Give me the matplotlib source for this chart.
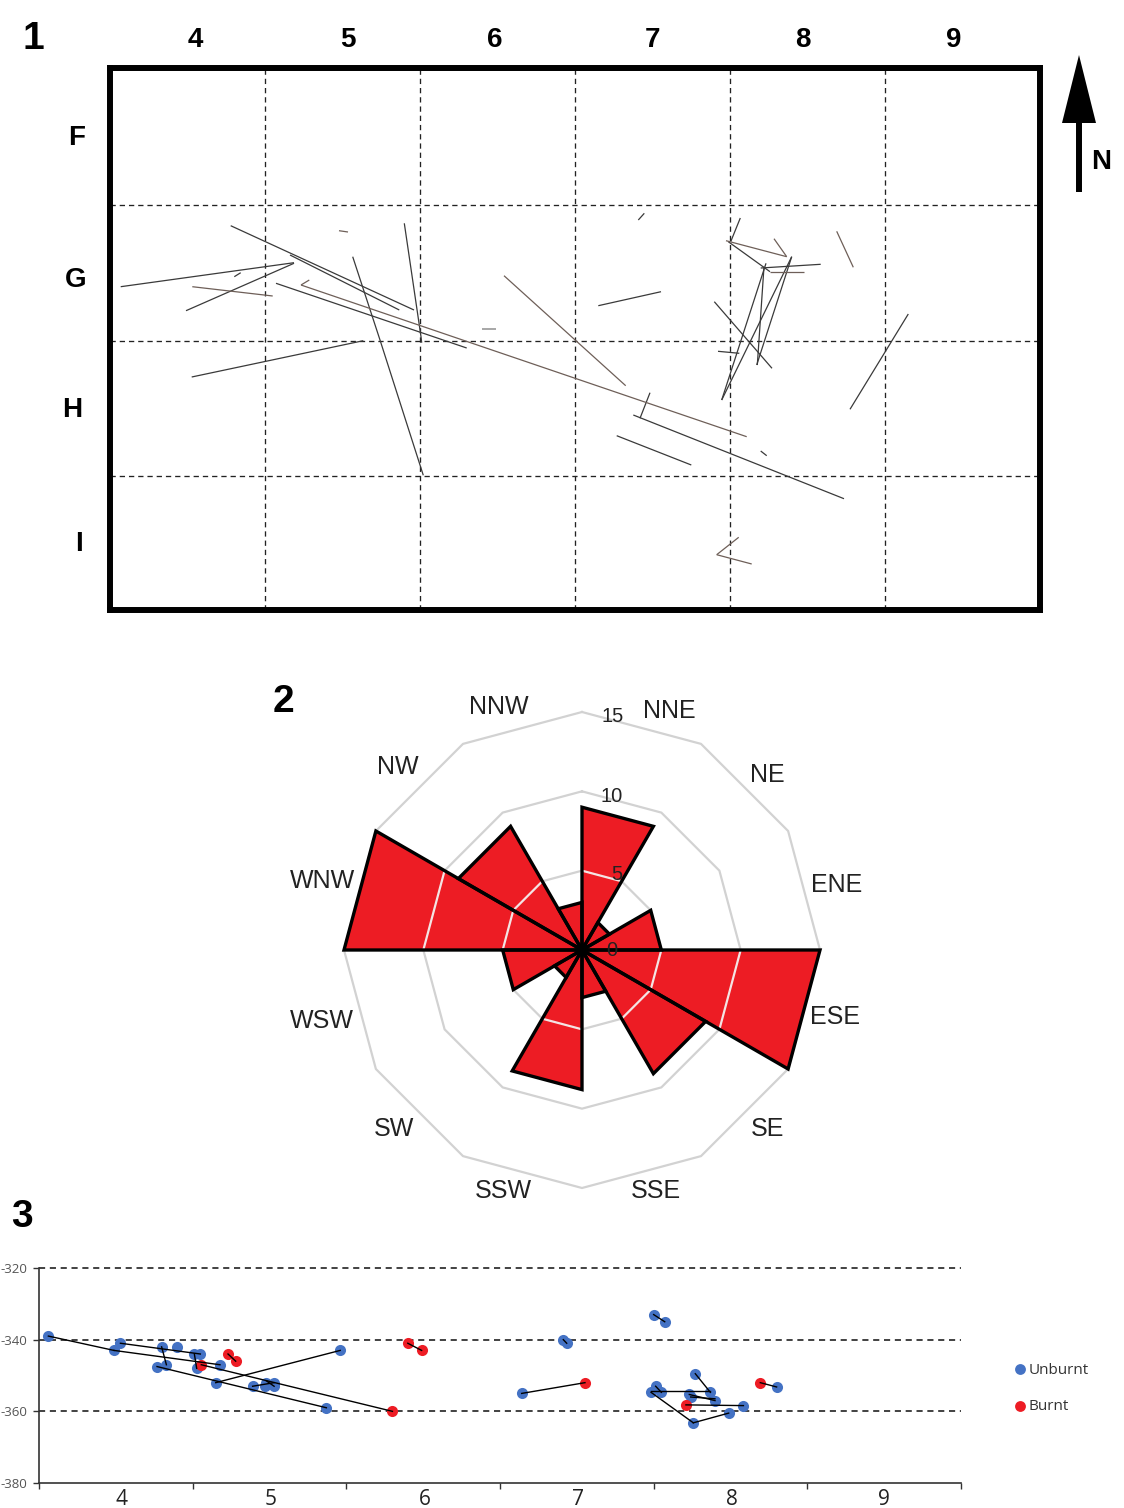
import numpy as np
import matplotlib
matplotlib.use("Agg")
import matplotlib.pyplot as plt

W, H = 1124, 1508
plt.rcParams['font.family'] = ['Liberation Sans', 'DejaVu Sans']

# ---------- Panel 1: map (map units, box spans 110-1040 by 68-610) ----------
map_x_grid = [265, 420, 575, 730, 885]
map_y_grid = [205, 341, 476]
col_labels = ['4', '5', '6', '7', '8', '9']
col_label_x = [195, 348, 495, 653, 803, 954]
row_labels = ['F', 'G', 'H', 'I']
row_label_pos = [(77, 135), (76, 277), (72, 407), (79, 541)]

dark_lines = [
    [(230.7, 225.7), (414, 310)], [(290, 255), (399.3, 310)],
    [(120.7, 286.7), (294, 262.7)], [(186, 310.7), (294, 263.3)],
    [(234.3, 276.7), (240.7, 272.7)], [(276, 283.3), (466.7, 348)],
    [(404.3, 223.3), (421, 336.7), (421.7, 342.7)],
    [(352.7, 256.7), (380, 340), (423.3, 475.3)],
    [(191.7, 377), (363.3, 340.7)], [(638.3, 220), (644.3, 213.3)],
    [(598.3, 305.7), (661, 291.7)], [(650, 392.7), (640, 418.3)],
    [(633.3, 415), (844, 498.7)], [(616.7, 435.7), (691.3, 465)],
    [(760.7, 451), (766.7, 455.7)], [(740.3, 218), (730.7, 241.7)],
    [(728.3, 241.7), (770, 271.7)], [(760.7, 268), (820.7, 264.3)],
    [(766, 263.3), (721.7, 400)], [(764, 266.7), (757.3, 365)],
    [(791.7, 256.7), (721.7, 400)], [(791.7, 256.7), (756.7, 365)],
    [(714.3, 301.7), (772, 368.3)], [(718, 351.3), (739.3, 353.3)],
    [(908.3, 314), (850, 409.3)],
]
brown_lines = [
    [(192.3, 286.7), (272.7, 296)], [(301, 285), (746.7, 436.7)],
    [(301, 285), (309.3, 280)], [(339, 230.7), (348, 232)],
    [(504, 275.7), (625.7, 385.7)], [(738.7, 537.3), (716.7, 554.7)],
    [(716.7, 554.7), (751.7, 564)], [(726, 240.7), (786.7, 256.7)],
    [(774, 238.7), (786.7, 256.7)], [(770, 271.7), (804, 271.7)],
    [(836.7, 231.3), (853.3, 267.3)],
]
grey_lines = [[(482.3, 328.7), (495.7, 328.7)]]

# ---------- Panel 2: rose ----------
rose_dirs = ['NNE', 'NE', 'ENE', 'ESE', 'SE', 'SSE', 'SSW', 'SW', 'WSW', 'WNW', 'NW', 'NNW']
rose_vals = [9, 2, 5, 15, 9, 3, 8.8, 2, 5, 15, 9, 3]
rose_rings = [5, 10, 15]
rose_label_pos = [(669, 708), (767, 773), (837, 883), (835, 1015), (768, 1127), (656, 1189),
                  (503, 1189), (394, 1126), (322, 1019), (323, 878), (398, 765), (499, 704)]
ring_labels = ['0', '5', '10', '15']
ring_label_pos = [(612, 948), (617, 872), (612, 794), (613, 715)]

# ---------- Panel 3: section ----------
unburnt_x = [3.561, 4.03, 3.988, 4.298, 4.398, 4.511, 4.55, 4.268, 4.329, 4.526, 4.678, 4.65,
             4.89, 4.97, 4.98, 5.03, 5.03, 5.37, 5.46,
             6.641, 6.912, 6.934, 7.5, 7.572, 7.771, 7.513, 7.483, 7.55, 7.869, 7.732, 7.741,
             7.899, 8.084, 7.988, 7.758, 8.3]
unburnt_y = [-339, -341, -343, -342, -342, -344, -344, -347.5, -347, -348, -347, -352,
             -353, -353, -352, -352, -353, -359, -343,
             -355, -340, -341, -333, -335, -349.5, -353, -354.7, -354.7, -354.7, -355.3, -356,
             -357, -358.6, -360.5, -363.2, -353.2]
burnt_x = [4.73, 4.78, 4.556, 5.80, 5.90, 5.99, 7.053, 7.71, 8.194]
burnt_y = [-344, -346, -347, -360, -341, -343, -352, -358.3, -352]
refit_lines = [
    [(3.561, -339), (3.988, -343)], [(3.988, -343), (4.678, -347)],
    [(4.03, -341), (4.55, -344)], [(4.298, -342), (4.329, -347)],
    [(4.268, -347.5), (5.37, -359)], [(4.65, -352), (5.46, -343)],
    [(4.511, -344), (4.526, -348)], [(4.556, -347), (5.80, -360)],
    [(4.89, -353), (5.03, -352)], [(4.98, -351.5), (5.03, -353)],
    [(4.73, -344), (4.78, -346)], [(5.90, -341), (5.99, -343)],
    [(6.641, -355), (7.053, -352)], [(6.912, -340), (6.934, -341)],
    [(7.5, -333), (7.572, -335)], [(7.771, -349.5), (7.869, -354.7)],
    [(7.483, -354.2), (7.869, -354.2)], [(7.513, -353), (7.55, -354.7)],
    [(7.483, -354.7), (7.758, -363.2)], [(7.758, -363.2), (7.988, -360.5)],
    [(7.732, -355.3), (7.899, -357)], [(7.741, -356), (7.899, -356.5)],
    [(7.71, -358.2), (8.084, -358.4)], [(8.194, -352), (8.3, -353.2)],
]
sec_y_ticks = [-320, -340, -360, -380]
sec_x_edges = [3.5, 4.5, 5.5, 6.5, 7.5, 8.5, 9.5]
sec_x_labels = ['4', '5', '6', '7', '8', '9']
sec_x_label_pos = [4.034, 5.01, 6.01, 7.01, 8.01, 9.0]

BLUE, RED = '#4472c4', '#ed1c24'


def rect(x0, y0, x1, y1):
    return [x0 / W, 1 - y1 / H, (x1 - x0) / W, (y1 - y0) / H]


fig = plt.figure(figsize=(W / 100, H / 100), dpi=100, facecolor='white')

# --- map ---
ax1 = fig.add_axes(rect(110, 68, 1040, 610))
ax1.set_xlim(110, 1040)
ax1.set_ylim(610, 68)
ax1.set_xticks([])
ax1.set_yticks([])
for s in ax1.spines.values():
    s.set_linewidth(4.3)
    s.set_color('black')
for gx in map_x_grid:
    ax1.axvline(gx, color='#222222', lw=0.95, dashes=(4, 3))
for gy in map_y_grid:
    ax1.axhline(gy, color='#222222', lw=0.95, dashes=(4, 3))
for group, col, lw in [(dark_lines, '#3a3a3a', 0.9), (brown_lines, '#6e5f58', 0.9),
                       (grey_lines, '#909090', 1.1)]:
    for seg in group:
        xs, ys = zip(*seg)
        ax1.plot(xs, ys, color=col, lw=lw, solid_capstyle='butt')

# --- rose ---
R = 238
ax2 = fig.add_axes(rect(582 - R, 950 - R, 582 + R, 950 + R), projection='polar')
ax2.set_theta_zero_location('N')
ax2.set_theta_direction(-1)
ax2.set_ylim(0, 15)
ax2.axis('off')
step = 2 * np.pi / len(rose_vals)
edges = np.arange(len(rose_vals) + 1) * step
for g in rose_rings:
    ax2.plot(edges, [g] * len(edges), color='#d2d2d2', lw=1.6, zorder=1, clip_on=False)
for i, v in enumerate(rose_vals):
    t0, t1 = edges[i], edges[i + 1]
    ax2.fill([t0, t0, t1], [0, v, v], facecolor=RED, edgecolor='none', zorder=2, clip_on=False)
    for g in rose_rings[:-1]:
        if v > g:
            ax2.plot([t0, t1], [g, g], color='#f4e4e4', lw=1.6, zorder=3)
for i, v in enumerate(rose_vals):
    t0, t1 = edges[i], edges[i + 1]
    ax2.fill([t0, t0, t1], [0, v, v], facecolor='none', edgecolor='black', lw=2.4, zorder=4,
             joinstyle='miter', clip_on=False)

# --- section ---
ax3 = fig.add_axes(rect(39, 1268, 961, 1483))
ax3.set_xlim(3.5, 9.5)
ax3.set_ylim(-380, -320)
for s in ['top', 'right']:
    ax3.spines[s].set_visible(False)
for s in ['left', 'bottom']:
    ax3.spines[s].set_color('#333333')
    ax3.spines[s].set_linewidth(1.2)
ax3.set_yticks(sec_y_ticks)
ax3.set_yticklabels([str(v) for v in sec_y_ticks], fontsize=9.5, color='#555555',
                    family=['Open Sans', 'DejaVu Sans'])
ax3.tick_params(axis='y', length=4, width=1, color='#333333', pad=4.5)
ax3.set_xticks(sec_x_edges)
ax3.set_xticklabels([])
ax3.set_xticks(sec_x_label_pos, minor=True)
ax3.set_xticklabels(sec_x_labels, minor=True, fontsize=15, color='#222222',
                    family=['Open Sans', 'DejaVu Sans'])
ax3.tick_params(axis='x', which='major', length=4, width=1, color='#333333')
ax3.tick_params(axis='x', which='minor', length=0, pad=4)
for gy in sec_y_ticks[:3]:
    ax3.axhline(gy, color='#333333', lw=1.3, dashes=(3.4, 2.6), clip_on=False, zorder=1)
ax3.plot(unburnt_x, unburnt_y, 'o', color=BLUE, ms=8.0, mew=0, zorder=2, label='Unburnt')
ax3.plot(burnt_x, burnt_y, 'o', color=RED, ms=8.0, mew=0, zorder=2, label='Burnt')
for seg in refit_lines:
    xs, ys = zip(*seg)
    ax3.plot(xs, ys, color='black', lw=1.0, zorder=3)

# --- overlay: labels, arrow, legend (pixel frame) ---
ov = fig.add_axes([0, 0, 1, 1], zorder=10)
ov.set_xlim(0, W)
ov.set_ylim(H, 0)
ov.axis('off')
ov.patch.set_alpha(0)


def label(x, y, s, size, weight='normal', color='black', ha='center', **kw):
    ov.text(x, y, s, fontsize=size, fontweight=weight, color=color, ha=ha, va='center_baseline', **kw)


label(33, 35, '1', 28, 'bold')
label(283, 698, '2', 28, 'bold')
label(22, 1213, '3', 28, 'bold')
for x, s in zip(col_label_x, col_labels):
    label(x, 37, s, 20, 'bold')
for (x, y), s in zip(row_label_pos, row_labels):
    label(x, y, s, 20, 'bold')
for (x, y), s in zip(rose_label_pos, rose_dirs):
    label(x, y, s, 18, color='#222222')
for (x, y), s in zip(ring_label_pos, ring_labels):
    label(x, y, s, 14.5, color='#222222')
# north arrow
ov.fill([1079, 1062, 1096], [55, 123, 123], color='black', lw=0)
ov.plot([1079, 1079], [120, 192], color='black', lw=4.3, solid_capstyle='butt')
label(1101, 159, 'N', 20, 'bold')
# legend
ov.plot([1020], [1369], 'o', color=BLUE, ms=7.8, mew=0)
ov.plot([1020], [1406], 'o', color=RED, ms=7.8, mew=0)
fam = ['Open Sans', 'DejaVu Sans']
label(1029, 1368, 'Unburnt', 11, color='#333333', ha='left', family=fam)
label(1029, 1405, 'Burnt', 11, color='#333333', ha='left', family=fam)

fig.savefig('out.png', dpi=100, facecolor='white')
